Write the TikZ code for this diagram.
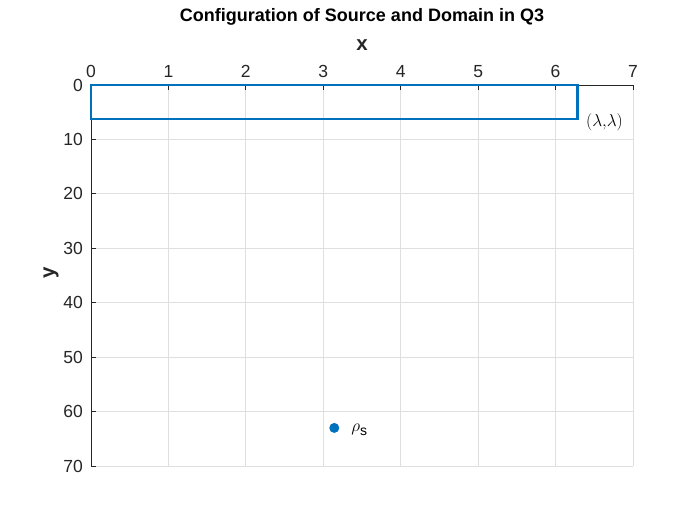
\documentclass[tikz,border=0pt]{standalone}
\usepackage{fontspec}
\setmainfont{Liberation Sans}
\begin{document}
\begin{tikzpicture}[x=1pt,y=-1pt,
  axiscol/.style={draw=axc, line width=1pt},
  gridline/.style={draw=gridc, line width=0.8pt},
  ticklab/.style={font=\fontsize{17.5}{20}\selectfont, text=axc, inner sep=0pt},
  boldlab/.style={font=\bfseries\fontsize{18}{20}\selectfont, text=black, inner sep=0pt},
  axlab/.style={font=\bfseries\fontsize{20.5}{22}\selectfont, text=axc, inner sep=0pt},
  domainbox/.style={draw=mblue, line width=2.4pt},
  srcpt/.style={circle, fill=mblue, inner sep=0pt, minimum size=10pt}]
\definecolor{axc}{RGB}{38,38,38}
\definecolor{gridc}{RGB}{223,223,223}
\definecolor{mblue}{RGB}{0,114,189}
\useasboundingbox[fill=white] (0,0) rectangle (700,525);
\begin{scope}[shift={(91,85)}, x=77.43pt, y=-5.443pt]
  % grid
  \foreach \i in {1,...,7} \draw[gridline] (\i,0) -- (\i,70);
  \foreach \j in {10,20,...,70} \draw[gridline] (0,\j) -- (7,\j);
  % axes
  \coordinate (O) at (0,0);
  \coordinate (XE) at (7,0);
  \coordinate (YE) at (0,70);
  \draw[axiscol] (XE) -- (O) -- (YE);
  \foreach \i in {0,...,7} {
    \draw[axiscol] (\i,0) -- ++(0,-5.2pt);
    \node[ticklab, anchor=base] (tx\i) at ([yshift=8pt]\i,0) {\i};
  }
  \foreach \j in {0,10,...,70} {
    \draw[axiscol] (0,\j) -- ++(5.2pt,0);
    \node[ticklab, anchor=east] (ty\j) at ([xshift=-8pt]0,\j) {\j};
  }
  % domain rectangle
  \coordinate (A) at (0,0);
  \coordinate (B) at (6.2832,6.2832);
  \draw[domainbox] (A) rectangle (B);
  \node[inner sep=0pt, font=\fontsize{17}{19}\selectfont] (lam) at ([xshift=27pt,yshift=-3pt]B) {$(\lambda{,}\lambda)$};
  % source
  \node[srcpt] (src) at (3.1416,63) {};
  \node[inner sep=0pt, anchor=west, font=\fontsize{18}{20}\selectfont] (rho) at ([xshift=17pt,yshift=-2pt]src.center) {$\rho$\raisebox{-4.5pt}{\fontsize{14}{16}\selectfont s}};
\end{scope}
\node[boldlab, anchor=base] (title) at (362,21.5) {Configuration of Source and Domain in Q3};
\node[axlab, anchor=base] (xl) at (362,50.5) {x};
\node[axlab, rotate=90] (yl) at (51,273) {y};
\end{tikzpicture}
\end{document}
